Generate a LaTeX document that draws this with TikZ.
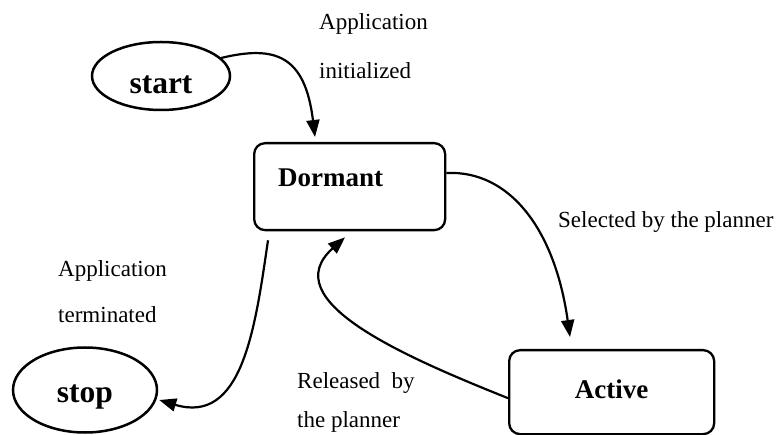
\documentclass[tikz,border=0pt]{standalone}
\usepackage{fontspec}
\setmainfont{Liberation Serif}
\usetikzlibrary{arrows.meta,shapes.geometric,calc}
\begin{document}
\begin{tikzpicture}[x=1pt,y=-1pt,
  lbl/.style={anchor=base west,inner sep=0pt,font=\fontsize{23}{27}\selectfont},
  ell/.style={draw,ellipse,line width=2.5pt,inner sep=0pt,font=\fontsize{31.5}{36}\selectfont\bfseries},
  stbox/.style={draw,rectangle,rounded corners=11pt,line width=2.3pt,inner ysep=0pt,font=\fontsize{27}{32}\selectfont\bfseries},
  conn/.style={line width=2.2pt,-{Triangle[length=17pt,width=13pt]}}]
\useasboundingbox (0,0) rectangle (784,435);
% states
\node[ell,minimum width=138pt,minimum height=68pt,text height=36pt,text depth=0pt] (start) at (161,76) {start};
\node[ell,minimum width=144pt,minimum height=85pt,text height=24pt,text depth=0pt] (stop) at (85,390) {stop\hspace{14pt}};
\node[stbox,anchor=north west,inner xsep=24pt,text width=143pt,align=left,text height=43pt,text depth=44pt] (dormant) at (253,142) {Dormant};
\node[stbox,anchor=north west,inner xsep=0pt,text width=205pt,align=center,text height=48pt,text depth=36pt] (active) at (508,349) {Active};
% connectors
\draw[conn] ($(start.center)+(60,-18)$) .. controls (275,45) and (305,55) .. ($(dormant.north west)+(62,-5)$);
\draw[conn] ($(dormant.north east)+(0,31)$) .. controls (510,170) and (555,230) .. ($(active.north west)+(62,-12)$);
\draw[conn] ($(active.west)+(0,6)$) .. controls (400,355) and (275,300) .. ($(dormant.south west)+(92,6)$);
\draw[conn] ($(dormant.south west)+(15,9)$) .. controls (255,330) and (242,425) .. ($(stop.east)+(1,10)$);
% labels
\node[lbl] (l1a) at (319,30) {Application};
\node[lbl] (l1b) at (319,79) {initialized};
\node[lbl] (l2) at (558,228) {Selected by the planner};
\node[lbl] (l3a) at (297,388) {Released\ \ by};
\node[lbl] (l3b) at (297,427) {the planner};
\node[lbl] (l4a) at (58,277) {Application};
\node[lbl] (l4b) at (58,323) {terminated};
\end{tikzpicture}
\end{document}
